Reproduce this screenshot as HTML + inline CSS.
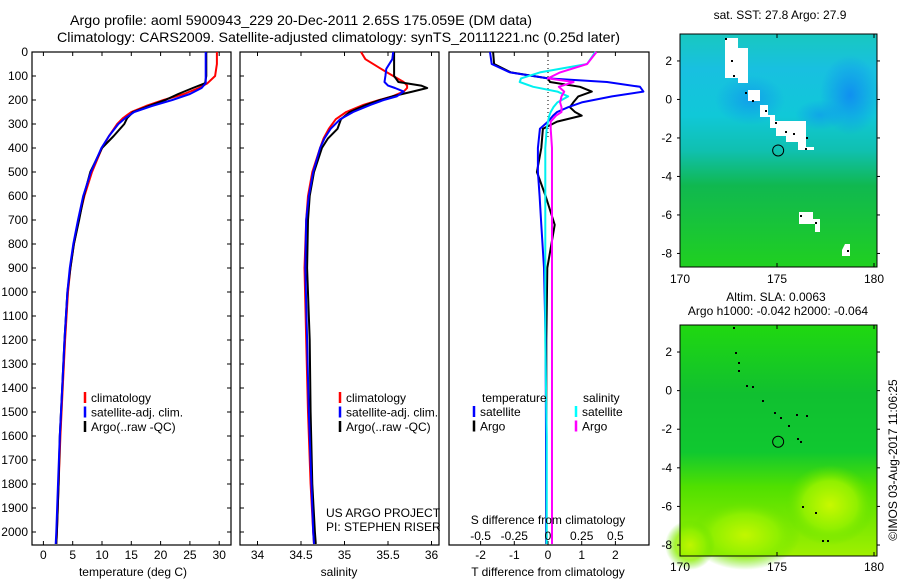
<!DOCTYPE html>
<html><head><meta charset="utf-8"><style>
body{margin:0;background:#fff}
svg{display:block;font-family:"Liberation Sans",sans-serif;font-size:12px}
</style></head><body>
<svg id="fig" width="900" height="580" viewBox="0 0 900 580">
<defs>
<linearGradient id="sst" x1="0" y1="0" x2="0" y2="1">
<stop offset="0" stop-color="#18c8c0"/><stop offset="0.15" stop-color="#18c0e0"/><stop offset="0.35" stop-color="#10c8d8"/><stop offset="0.5" stop-color="#10c0b0"/><stop offset="0.65" stop-color="#10b850"/><stop offset="1" stop-color="#20d020"/>
</linearGradient>
<radialGradient id="blue1" cx="0.5" cy="0.5" r="0.5"><stop offset="0" stop-color="#1090f0"/><stop offset="1" stop-color="#1090f0" stop-opacity="0"/></radialGradient>
<radialGradient id="yel" cx="0.5" cy="0.5" r="0.5"><stop offset="0" stop-color="#c8f800"/><stop offset="0.6" stop-color="#90f000"/><stop offset="1" stop-color="#60e000" stop-opacity="0"/></radialGradient>
<linearGradient id="sla" x1="0" y1="0" x2="0" y2="1">
<stop offset="0" stop-color="#20d810"/><stop offset="0.3" stop-color="#10c030"/><stop offset="0.55" stop-color="#10c830"/><stop offset="0.7" stop-color="#50e000"/><stop offset="1" stop-color="#a0f000"/>
</linearGradient>
</defs>
<g id="titles">
<text x="70" y="25" textLength="462" lengthAdjust="spacingAndGlyphs" font-size="14">Argo profile: aoml 5900943_229 20-Dec-2011 2.65S 175.059E (DM data)</text>
<text x="57" y="42" textLength="563" lengthAdjust="spacingAndGlyphs" font-size="14">Climatology: CARS2009. Satellite-adjusted climatology: synTS_20111221.nc (0.25d later)</text>
</g>
<g id="p1"></g>
<g id="p2"></g>
<g id="p3"></g>
<g id="m1"></g>
<g id="m2"></g>
<text transform="translate(897,460) rotate(-90)" text-anchor="middle" font-size="12">©IMOS 03-Aug-2017 11:06:25</text>
</svg>
<script>
// ---------- data ----------
const tDepth=[0,50,100,130,150,175,200,225,250,275,300,350,400,500,600,700,800,900,1000,1200,1400,1600,1800,2000,2050];
const tClim=[29.6,29.6,29.3,28.0,26.5,24.0,20.5,17.5,15.0,13.6,12.6,11.2,10.0,8.3,7.0,6.0,5.2,4.6,4.2,3.7,3.3,2.9,2.6,2.3,2.2];
const tSat=[27.7,27.7,27.7,27.7,27.0,25.0,22.0,18.5,15.5,14.0,12.8,11.2,9.9,8.1,6.8,5.9,5.1,4.5,4.1,3.6,3.2,2.8,2.5,2.2,2.1];
const tArgo=[27.8,27.8,27.8,27.6,25.5,23.0,20.8,18.0,15.3,14.3,13.8,12.0,10.0,8.0,6.9,6.1,5.2,4.6,4.1,3.6,3.2,2.8,2.6,2.3,2.2];
const sDepth=[0,30,70,100,125,140,150,165,185,200,220,250,280,320,360,400,500,600,700,900,1200,1500,1800,2000,2050];
const sClim=[35.19,35.24,35.42,35.56,35.68,35.72,35.72,35.68,35.55,35.40,35.22,35.02,34.90,34.82,34.76,34.72,34.63,34.58,34.56,34.54,34.56,34.58,34.61,34.64,34.65];
const sSat=[35.56,35.55,35.48,35.47,35.46,35.50,35.58,35.68,35.60,35.45,35.30,35.10,34.95,34.84,34.77,34.72,34.64,34.59,34.56,34.55,34.57,34.59,34.62,34.64,34.65];
const sArgo=[35.57,35.57,35.57,35.57,35.62,35.88,35.95,35.78,35.55,35.41,35.25,35.06,34.96,34.92,34.81,34.74,34.65,34.60,34.58,34.57,34.60,34.61,34.63,34.66,34.67];
const dDepth=[0,50,85,110,125,145,165,185,210,230,250,265,290,320,400,500,600,720,900,1200,1600,2050];
const dTSat=[-1.72,-1.67,-1.13,0,1.75,2.73,2.83,1.9,1.0,0.6,0.27,0.15,0,-0.24,-0.3,-0.3,-0.25,-0.2,-0.12,-0.07,-0.06,-0.05];
const dTArgo=[-1.63,-1.60,-1.1,0,0.06,0.95,1.3,0.9,0.75,0.65,0.8,1.0,0.27,-0.15,-0.2,-0.33,-0.07,0.2,-0.02,-0.05,-0.05,-0.05];
const dSSat=[0.35,0.29,-0.06,-0.2,-0.21,-0.11,0.07,0.15,0.07,0.04,0.02,0.01,0,-0.01,-0.02,-0.02,-0.02,-0.02,-0.02,-0.02,-0.01,-0.01];
const dSArgo=[0.36,0.29,0.09,0,0.19,0.08,0.12,0.1,0.09,0.1,0.1,0.06,0.02,0.02,0.03,0.03,0.03,0.03,0.03,0.03,0.03,0.03];
const depthTicks=[0,100,200,300,400,500,600,700,800,900,1000,1100,1200,1300,1400,1500,1600,1700,1800,1900,2000];
const tTicks=[0,5,10,15,20,25,30];
const sTicks=[34,34.5,35,35.5,36];
const sTickLabels=['34','34.5','35','35.5','36'];
const dTTicks=[-2,-1,0,1,2];
const dSTicks=[-0.5,-0.25,0,0.25,0.5];
const dSTickLabels=['-0.5','-0.25','0','0.25','0.5'];
const lonTicks=[170,175,180];
const latTicks=[2,0,-2,-4,-6,-8];
const floatPos=[175.059,-2.65];

// ---------- helpers ----------
const NS='http://www.w3.org/2000/svg';
function mk(parent,tag,attrs,txt){const e=document.createElementNS(NS,tag);for(const k in attrs)e.setAttribute(k,attrs[k]);if(txt!==undefined)e.textContent=txt;parent.appendChild(e);return e;}
const TOP=52,BOT=545;
const yD=d=>TOP+d*0.24;
const xT=v=>43.4+v*5.86;
const xS=v=>257.5+(v-34)*87;
const xDT=v=>548+v*33.7;
const xDS=v=>548+v*134.8;

function frame(g,x0,x1,name){
  const r=mk(g,'rect',{x:x0,y:TOP,width:x1-x0,height:BOT-TOP,fill:'none',stroke:'#000','stroke-width':1.2});
  
  
}
function line(g,xs,ys,fx,color,name){
  const pts=xs.map((v,i)=>fx(v).toFixed(1)+','+yD(ys[i]).toFixed(1)).join(' ');
  const p=mk(g,'polyline',{points:pts,fill:'none',stroke:color,'stroke-width':2,'stroke-linejoin':'round'});
  
  
}
function xticks(g,vals,labels,fx,ylab){
  vals.forEach((v,i)=>{
    const x=fx(v);
    mk(g,'line',{x1:x,x2:x,y1:TOP,y2:TOP+4,stroke:'#000'});
    mk(g,'line',{x1:x,x2:x,y1:BOT,y2:BOT-4,stroke:'#000'});
    if(labels){const t=mk(g,'text',{x:x,y:ylab,'text-anchor':'middle'},labels[i]);
      
      }
  });
}
function legend(g,x,y,items){
  items.forEach((it,i)=>{
    const yy=y+i*14.5;
    mk(g,'line',{x1:x,x2:x,y1:yy-10,y2:yy+1,stroke:it[1],'stroke-width':2.5});
    const t=mk(g,'text',{x:x+6,y:yy},it[0]);
    
    
  });
}

// ---------- panel 1 ----------
const p1=document.getElementById('p1');
frame(p1,32,231,'temperature');
depthTicks.forEach(d=>{
  const y=yD(d);
  mk(p1,'line',{x1:32,x2:36,y1:y,y2:y,stroke:'#000'});
  mk(p1,'line',{x1:231,x2:227,y1:y,y2:y,stroke:'#000'});
  mk(p1,'line',{x1:240,x2:244,y1:y,y2:y,stroke:'#000'});
  const t=mk(p1,'text',{x:28,y:y+4,'text-anchor':'end'},String(d));
  
  
});
xticks(p1,tTicks,tTicks.map(String),xT,559);
line(p1,tClim,tDepth,xT,'#ff0000','temp-climatology-line');
line(p1,tArgo,tDepth,xT,'#000000','temp-argo-line');
line(p1,tSat,tDepth,xT,'#0000ff','temp-satellite-line');
legend(p1,85,402,[['climatology','#f00'],['satellite-adj. clim.','#00f'],['Argo(..raw -QC)','#000']]);
mk(p1,'text',{x:133,y:576,'text-anchor':'middle',},'temperature (deg C)');

// ---------- panel 2 ----------
const p2=document.getElementById('p2');
frame(p2,240,439,'salinity');
xticks(p2,sTicks,sTickLabels,xS,559);
line(p2,sClim,sDepth,xS,'#ff0000','sal-climatology-line');
line(p2,sArgo,sDepth,xS,'#000000','sal-argo-line');
line(p2,sSat,sDepth,xS,'#0000ff','sal-satellite-line');
legend(p2,340,402,[['climatology','#f00'],['satellite-adj. clim.','#00f'],['Argo(..raw -QC)','#000']]);
mk(p2,'text',{x:326,y:517,},'US ARGO PROJECT');
mk(p2,'text',{x:326,y:531,},'PI: STEPHEN RISER');
mk(p2,'text',{x:339,y:576,'text-anchor':'middle',},'salinity');

// ---------- panel 3 ----------
const p3=document.getElementById('p3');
frame(p3,449,649,'difference');
xticks(p3,dTTicks,dTTicks.map(String),xDT,559);
mk(p3,'line',{x1:548,x2:548,y1:TOP,y2:yD(360),stroke:'#000','stroke-dasharray':'1,3',});
line(p3,dTArgo,dDepth,xDT,'#000000','tdiff-argo-line');
line(p3,dTSat,dDepth,xDT,'#0000ff','tdiff-satellite-line');
line(p3,dSSat,dDepth,xDS,'#00f0f0','sdiff-satellite-line');
line(p3,dSArgo,dDepth,xDS,'#ff00ff','sdiff-argo-line');
mk(p3,'text',{x:482,y:402},'temperature');
mk(p3,'text',{x:583,y:402},'salinity');
legend(p3,474,416,[['satellite','#00f'],['Argo','#000']]);
legend(p3,576,416,[['satellite','#0ff'],['Argo','#f0f']]);
mk(p3,'text',{x:548,y:524,'text-anchor':'middle',},'S difference from climatology');
dSTicks.forEach((v,i)=>{const t=mk(p3,'text',{x:xDS(v),y:540,'text-anchor':'middle'},dSTickLabels[i]);
  
  });
mk(p3,'text',{x:548,y:576,'text-anchor':'middle',},'T difference from climatology');

// ---------- maps ----------
function map(id,top,bot,latTop,latScale,fill,extras,title1,title2,labY){
  const g=document.getElementById(id);
  const L=680,R=877;
  const xl=lon=>L+(lon-170)*19.4;
  const yl=lat=>top+(latTop-lat)*latScale;
  mk(g,'rect',{x:L,y:top,width:R-L,height:bot-top,fill:fill,});
  extras(g,xl,yl);
  mk(g,'rect',{x:L,y:top,width:R-L,height:bot-top,fill:'none',stroke:'#000'});
  lonTicks.forEach(v=>{const x=xl(v);mk(g,'line',{x1:x,x2:x,y1:top,y2:top+4,stroke:'#000'});
    mk(g,'line',{x1:x,x2:x,y1:bot,y2:bot-4,stroke:'#000'});
    const t=mk(g,'text',{x:x,y:labY,'text-anchor':'middle'},String(v));
    
    });
  latTicks.forEach(v=>{const y=yl(v);mk(g,'line',{x1:L-3,x2:L,y1:y,y2:y,stroke:'#000'});
    mk(g,'line',{x1:R,x2:R+3,y1:y,y2:y,stroke:'#000'});
    const t=mk(g,'text',{x:L-8,y:y+4,'text-anchor':'end'},String(v));
    
    });
  const c=mk(g,'circle',{cx:xl(floatPos[0]),cy:yl(floatPos[1]),r:5.5,fill:'none',stroke:'#000'});
  
  
  title1&&mk(g,'text',title1[0],title1[1]);
  title2&&mk(g,'text',title2[0],title2[1]);
}
const islands=[[725,38],[731,60],[733,75],[745,92],[752,100],[765,110],[775,122],[785,131],[793,133],[806,137],[805,148],[800,215],[815,222],[847,250]];
map('m1',34,267,3.4,19.25,'url(#sst)',(g,xl,yl)=>{
  mk(g,'ellipse',{cx:850,cy:95,rx:30,ry:40,fill:'url(#blue1)'});
  mk(g,'ellipse',{cx:750,cy:100,rx:35,ry:25,fill:'url(#blue1)',opacity:0.7});
  mk(g,'ellipse',{cx:820,cy:115,rx:25,ry:15,fill:'url(#blue1)',opacity:0.6});
  const land=['725,38 738,38 738,48 748,48 748,83 738,83 738,78 725,78','748,90 760,90 760,101 748,101','760,105 768,105 768,115 775,115 775,121 806,121 806,147 814,147 814,150 798,150 798,142 786,142 786,136 776,136 776,128 770,128 770,117 760,117','799,212 813,212 813,219 820,219 820,232 815,232 815,224 799,224','845,244 850,244 850,256 842,256 842,250'];
  land.forEach(p=>{const e=mk(g,'polygon',{points:p,fill:'#fff'});
    
    });
  islands.forEach(p=>mk(g,'rect',{x:p[0],y:p[1],width:2,height:2,fill:'#000'}));
},[{x:780,y:19,'text-anchor':'middle'},'sat. SST: 27.8 Argo: 27.9'],null,283);
map('m2',325,556,3.4,19.3,'url(#sla)',(g,xl,yl)=>{
  mk(g,'ellipse',{cx:830,cy:505,rx:45,ry:40,fill:'url(#yel)'});
  mk(g,'ellipse',{cx:745,cy:535,rx:55,ry:35,fill:'url(#yel)',opacity:0.9});
  mk(g,'ellipse',{cx:690,cy:545,rx:25,ry:25,fill:'url(#yel)',opacity:0.8});
  const isl2=[[733,327],[735,352],[738,362],[738,370],[746,385],[752,386],[762,400],[774,412],[780,417],[796,414],[806,415],[788,425],[797,438],[800,441],[802,506],[815,512],[822,540],[827,540]];
  isl2.forEach(p=>mk(g,'rect',{x:p[0],y:p[1],width:2,height:2,fill:'#000'}));
},[{x:776,y:301,'text-anchor':'middle'},'Altim. SLA: 0.0063'],[{x:778,y:315,'text-anchor':'middle'},'Argo h1000: -0.042 h2000: -0.064'],571);
</script>
</body></html>
